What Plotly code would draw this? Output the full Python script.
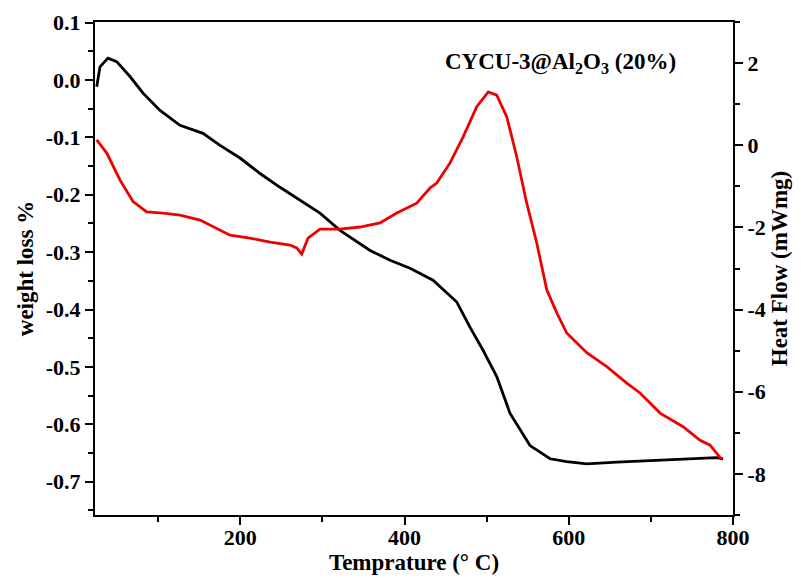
import plotly.graph_objects as go

# Weight loss (left axis)
temp_w = [25.1, 29.1, 38.8, 49.4, 65.6, 81.5, 102.2, 126.5, 154.5, 175.3, 199.6, 224.0,
          248.3, 272.7, 297.0, 321.4, 333.6, 358.0, 382.3, 406.7, 434.7, 463.6, 479.8,
          495.6, 512.3, 528.5, 552.8, 577.2, 597.5, 621.9, 658.4, 699.0, 739.4, 780.2, 787.9]
weight = [-0.012, 0.023, 0.038, 0.032, 0.006, -0.023, -0.053, -0.079, -0.093, -0.114, -0.136,
          -0.163, -0.187, -0.210, -0.232, -0.262, -0.274, -0.297, -0.314, -0.328, -0.349,
          -0.387, -0.431, -0.471, -0.517, -0.581, -0.637, -0.660, -0.665, -0.669, -0.666,
          -0.663, -0.661, -0.658, -0.660]

# Heat flow (right axis)
temp_h = [25.1, 37.3, 53.5, 69.3, 86.0, 105.8, 126.5, 150.9, 187.4, 211.8, 236.2, 260.5,
          268.7, 274.8, 282.4, 297.0, 321.4, 345.8, 370.1, 390.5, 414.8, 431.0, 439.2,
          455.4, 471.2, 487.9, 502.0, 512.3, 524.5, 536.6, 548.8, 561.0, 573.2, 585.4,
          597.5, 621.9, 646.3, 670.6, 686.8, 711.2, 739.2, 759.9, 772.1, 786.4]
heat = [0.13, -0.19, -0.85, -1.37, -1.62, -1.65, -1.70, -1.82, -2.19, -2.26, -2.36, -2.43,
        -2.50, -2.65, -2.26, -2.04, -2.04, -1.99, -1.89, -1.65, -1.41, -1.04, -0.92,
        -0.43, 0.20, 0.94, 1.30, 1.22, 0.69, -0.28, -1.41, -2.38, -3.52, -4.08,
        -4.57, -5.05, -5.39, -5.79, -6.03, -6.52, -6.85, -7.18, -7.30, -7.65]

x_ticks = [200, 400, 600, 800]
left_ticks = [0.1, 0.0, -0.1, -0.2, -0.3, -0.4, -0.5, -0.6, -0.7]
left_labels = ["0.1", "0.0", "-0.1", "-0.2", "-0.3", "-0.4", "-0.5", "-0.6", "-0.7"]
right_ticks = [2, 0, -2, -4, -6, -8]
right_labels = ["2", "0", "-2", "-4", "-6", "-8"]

FONT = "Liberation Serif"
tick_font = dict(family=FONT, size=22, color="black", weight="bold")
title_font = dict(family=FONT, size=23, color="black", weight="bold")
minor_common = dict(ticks="outside", ticklen=5, tickwidth=2, tickcolor="black")

fig = go.Figure()
fig.add_trace(go.Scatter(x=temp_w, y=weight, mode="lines",
                         line=dict(color="black", width=2.8), yaxis="y", showlegend=False))
fig.add_trace(go.Scatter(x=temp_h, y=heat, mode="lines",
                         line=dict(color="#ee0000", width=2.8), yaxis="y2", showlegend=False))

axis_common = dict(showline=True, linecolor="black", linewidth=2, ticks="outside",
                   ticklen=8, tickwidth=2, tickcolor="black", showgrid=False, zeroline=False,
                   automargin=False, tickfont=tick_font)

fig.update_layout(
    width=801, height=578,
    margin=dict(l=87, r=76, t=14, b=71),
    paper_bgcolor="white", plot_bgcolor="white",
    font=dict(family=FONT, color="black"),
    xaxis=dict(range=[23, 800], tickvals=x_ticks, ticktext=[str(v) for v in x_ticks],
               mirror=True, ticklabelstandoff=-6,
               minor=dict(tickvals=[100, 300, 500, 700], **minor_common),
               title=dict(text="Temprature (° C)", standoff=0, font=title_font),
               **axis_common),
    yaxis=dict(range=[-0.758, 0.101], tickvals=left_ticks, ticktext=left_labels,
               minor=dict(tickvals=[0.05, -0.05, -0.15, -0.25, -0.35, -0.45, -0.55, -0.65, -0.75],
                          **minor_common),
               title=dict(text="weight loss %", standoff=6, font=title_font),
               **axis_common),
    yaxis2=dict(range=[-9.0, 3.0], tickvals=right_ticks, ticktext=right_labels,
                overlaying="y", side="right",
                minor=dict(tickvals=[3, 1, -1, -3, -5, -7, -9], **minor_common),
                title=dict(text="Heat Flow (mWmg)", standoff=6, font=title_font),
                **axis_common),
    annotations=[dict(text="<b>CYCU-3@Al<sub>2</sub>O<sub>3</sub> (20%)</b>",
                      x=0.730, y=0.917, xref="paper", yref="paper", showarrow=False,
                      xanchor="center", yanchor="middle",
                      font=dict(family=FONT, size=23, color="black"))],
)

fig.write_html("out.html")
